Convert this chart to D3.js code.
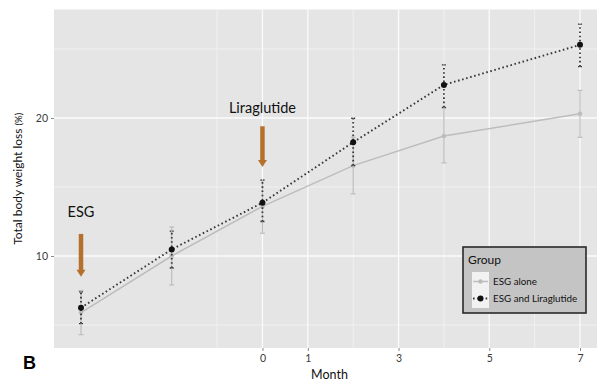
<!DOCTYPE html>
<html><head><meta charset="utf-8">
<script src="https://cdn.jsdelivr.net/npm/d3@7"></script>
<style>body{margin:0;background:#fff}svg{display:block}text{font-family:Lato,"Open Sans",sans-serif}</style>
</head><body>
<svg id="c" width="597" height="381"></svg>
<script>
// ---- data ----
const months = [-4, -2, 0, 2, 4, 7];
const aloneMean = [5.9, 10.0, 13.6, 16.55, 18.7, 20.3];
const aloneLow  = [4.3, 7.9, 11.65, 14.5, 16.75, 18.6];
const aloneHigh = [7.5, 12.1, 15.5, 18.6, 20.7, 22.0];
const liraMean  = [6.25, 10.48, 13.86, 18.24, 22.4, 25.3];
const liraLow   = [5.1, 9.13, 12.5, 16.55, 20.77, 23.72];
const liraHigh  = [7.4, 11.8, 15.5, 19.98, 23.85, 26.8];
const xTicks = [0, 1, 3, 5, 7];
const xMinor = [-1, 2, 4, 6];
const yTicks = [10, 20];
const yMinor = [5, 15, 25];
const annMonth = [-4, 0];
const annLabel = ["ESG", "Liraglutide"];
const annTextY = [13.2, 20.75];
const annTop   = [11.6, 19.4];
const annBot   = [8.5, 16.45];
const seriesNames = ["ESG alone", "ESG and Liraglutide"];

const svg = d3.select("#c");
const P = {l: 54, r: 597, t: 9.5, b: 348};
const x = d3.scaleLinear().domain([-4, 7]).range([81, 580]);
const y = d3.scaleLinear().domain([10, 20]).range([256, 118]);

svg.append("rect").attr("x", P.l).attr("y", P.t).attr("width", P.r - P.l).attr("height", P.b - P.t).attr("fill", "#e5e5e5");

const g = svg.append("g");
// grid
g.selectAll(".ymin").data(yMinor).join("line").attr("x1", P.l).attr("x2", P.r)
  .attr("y1", d => y(d)).attr("y2", d => y(d)).attr("stroke", "#f2f2f2").attr("stroke-width", 0.9);
g.selectAll(".xmin").data(xMinor).join("line").attr("y1", P.t).attr("y2", P.b)
  .attr("x1", d => x(d)).attr("x2", d => x(d)).attr("stroke", "#f2f2f2").attr("stroke-width", 0.9);
g.selectAll(".ymaj").data(yTicks).join("line").attr("x1", P.l).attr("x2", P.r)
  .attr("y1", d => y(d)).attr("y2", d => y(d)).attr("stroke", "#fbfbfb").attr("stroke-width", 1.3);
g.selectAll(".xmaj").data(xTicks).join("line").attr("y1", P.t).attr("y2", P.b)
  .attr("x1", d => x(d)).attr("x2", d => x(d)).attr("stroke", "#fbfbfb").attr("stroke-width", 1.3);

// axes
const ax = svg.append("g").attr("transform", `translate(0,${P.b})`)
  .call(d3.axisBottom(x).tickValues(xTicks).tickSize(3).tickPadding(4).tickFormat(d3.format("d")));
const ay = svg.append("g").attr("transform", `translate(${P.l},0)`)
  .call(d3.axisLeft(y).tickValues(yTicks).tickSize(3).tickPadding(3));
[ax, ay].forEach(a => {
  a.select(".domain").remove();
  a.selectAll("line").attr("stroke", "#888");
  a.selectAll("text").attr("fill", "#3a3a3a").style("font-size", "10.5px").style("font-family", "Lato");
});

// arrows
const arrowCol = "#b5712c";
annMonth.forEach((m, i) => {
  const cx = x(m), y1 = y(annTop[i]), y2 = y(annBot[i]);
  svg.append("line").attr("x1", cx).attr("x2", cx).attr("y1", y1).attr("y2", y2 - 6)
    .attr("stroke", arrowCol).attr("stroke-width", 4.5);
  svg.append("path").attr("d", `M${cx - 4.5},${y2 - 7}L${cx + 4.5},${y2 - 7}L${cx},${y2}Z`).attr("fill", arrowCol);
  svg.append("text").attr("x", cx).attr("y", y(annTextY[i])).attr("dy", "0.35em")
    .attr("text-anchor", "middle").style("font-size", "14.5px").attr("fill", "#111").text(annLabel[i]);
});

// ESG alone (grey)
const grey = "#bdbdbd";
const line = d3.line().x(d => x(d[0])).y(d => y(d[1]));
const aloneErr = svg.append("g");
months.forEach((m, i) => {
  aloneErr.append("line").attr("x1", x(m)).attr("x2", x(m)).attr("y1", y(aloneLow[i])).attr("y2", y(aloneHigh[i]))
    .attr("stroke", grey).attr("stroke-width", 1.2);
  [aloneLow[i], aloneHigh[i]].forEach(v => aloneErr.append("line").attr("x1", x(m) - 2.5).attr("x2", x(m) + 2.5)
    .attr("y1", y(v)).attr("y2", y(v)).attr("stroke", grey).attr("stroke-width", 1.2));
});
svg.append("path").datum(months.map((m, i) => [m, aloneMean[i]])).attr("d", line)
  .attr("fill", "none").attr("stroke", grey).attr("stroke-width", 1.5);
svg.selectAll(".pa").data(months).join("circle").attr("cx", d => x(d)).attr("cy", (d, i) => y(aloneMean[i]))
  .attr("r", 2.3).attr("fill", grey);

// ESG + Liraglutide (black dotted)
const dark = "#383838";
const dash = "1.6,2.6";
const liraErr = svg.append("g");
months.forEach((m, i) => {
  liraErr.append("line").attr("x1", x(m)).attr("x2", x(m)).attr("y1", y(liraLow[i])).attr("y2", y(liraHigh[i]))
    .attr("stroke", dark).attr("stroke-width", 1.8).attr("stroke-dasharray", dash);
  [liraLow[i], liraHigh[i]].forEach(v => liraErr.append("line").attr("x1", x(m) - 2).attr("x2", x(m) + 2)
    .attr("y1", y(v)).attr("y2", y(v)).attr("stroke", dark).attr("stroke-width", 1.4).attr("stroke-dasharray", "1.5,1"));
});
svg.append("path").datum(months.map((m, i) => [m, liraMean[i]])).attr("d", line)
  .attr("fill", "none").attr("stroke", dark).attr("stroke-width", 1.9).attr("stroke-dasharray", dash);
svg.selectAll(".pl").data(months).join("circle").attr("cx", d => x(d)).attr("cy", (d, i) => y(liraMean[i]))
  .attr("r", 3).attr("fill", "#111");

// axis titles
svg.append("text").attr("x", (P.l + 605) / 2).attr("y", 379).attr("text-anchor", "middle")
  .style("font-size", "12.5px").attr("fill", "#111").text("Month");
const yt = svg.append("text").attr("transform", `translate(22,${(P.t + P.b) / 2}) rotate(-90)`)
  .attr("text-anchor", "middle").style("font-size", "12px").attr("fill", "#111");
yt.append("tspan").text("Total body weight loss ");
yt.append("tspan").style("font-size", "9.5px").text("(%)");

// panel letter
svg.append("text").attr("x", 23).attr("y", 369).style("font-family", "'Liberation Sans',Arial,sans-serif")
  .style("font-weight", "bold").style("font-size", "18px").attr("fill", "#000").text("B");

// legend
const L = svg.append("g").attr("transform", "translate(463,247)");
L.append("rect").attr("width", 123).attr("height", 66).attr("fill", "#c4c4c4").attr("stroke", "#2a2a2a").attr("stroke-width", 1.6);
L.append("text").attr("x", 5).attr("y", 17).style("font-size", "12px").attr("fill", "#111").text("Group");
L.append("rect").attr("x", 9).attr("y", 25).attr("width", 17).attr("height", 36).attr("fill", "#f2f2f2");
const rows = [
  {c: grey, w: 1.5, d: null, r: 2.3, f: grey},
  {c: dark, w: 1.9, d: dash, r: 3, f: "#111"}
];
seriesNames.forEach((s, i) => {
  const ry = 34.5 + i * 17;
  L.append("line").attr("x1", 10).attr("x2", 25).attr("y1", ry).attr("y2", ry)
    .attr("stroke", rows[i].c).attr("stroke-width", rows[i].w).attr("stroke-dasharray", rows[i].d);
  L.append("circle").attr("cx", 17.5).attr("cy", ry).attr("r", rows[i].r).attr("fill", rows[i].f);
  L.append("text").attr("x", 30).attr("y", ry).attr("dy", "0.35em").style("font-size", "9.8px").attr("fill", "#111").text(s);
});
</script>
</body></html>
